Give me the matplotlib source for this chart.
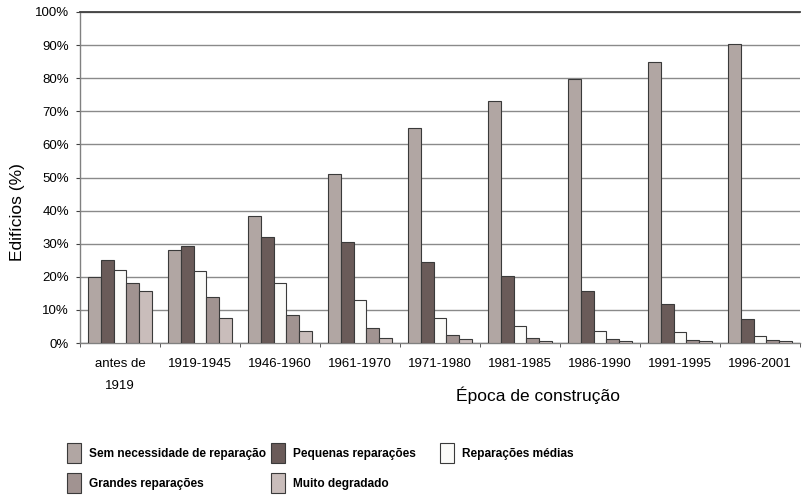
import matplotlib as mpl
mpl.use('Agg')
import matplotlib.pyplot as plt
from matplotlib.patches import Rectangle
from matplotlib.ticker import PercentFormatter
import numpy as np

periods = ["antes de\n1919", "1919-1945", "1946-1960", "1961-1970", "1971-1980",
           "1981-1985", "1986-1990", "1991-1995", "1996-2001"]

series_names = ["Sem necessidade de reparação", "Pequenas reparações",
                "Reparações médias", "Grandes reparações", "Muito degradado"]

sem_necessidade = [20.0, 28.1, 38.3, 51.0, 65.0, 73.2, 79.8, 84.9, 90.3]
pequenas = [25.0, 29.3, 31.9, 30.6, 24.6, 20.2, 15.6, 11.7, 7.2]
medias = [22.2, 21.9, 18.1, 12.9, 7.7, 5.2, 3.6, 3.2, 2.1]
grandes = [18.0, 13.9, 8.4, 4.4, 2.3, 1.5, 1.1, 0.9, 0.9]
degradado = [15.6, 7.5, 3.6, 1.6, 1.1, 0.6, 0.6, 0.5, 0.5]

colors = ["#b1a6a3", "#6a5b59", "#fbfbf9", "#a19391", "#c9bdbb"]

plt.rcParams['font.family'] = ['Liberation Sans', 'DejaVu Sans']

W, H = 804, 497
fig = plt.figure(figsize=(W / 100, H / 100), dpi=100)
ax = fig.add_axes([80 / W, 1 - 343 / H, 720 / W, 331 / H])

all_series = [sem_necessidade, pequenas, medias, grandes, degradado]
x = np.arange(len(periods))
bw = 0.159
for j, vals in enumerate(all_series):
    ax.bar(x + (j - 2) * bw, np.array(vals) / 100, bw, color=colors[j],
           edgecolor="#3a3a3a", linewidth=0.8, zorder=3)

ax.set_xlim(-0.5, len(periods) - 0.5)
ax.set_ylim(0, 1)
ax.set_yticks(np.arange(0, 1.01, 0.1))
ax.yaxis.set_major_formatter(PercentFormatter(1.0, decimals=0))
ax.grid(axis='y', color="#8a8a8a", linewidth=1.0, zorder=0)
ax.axhline(1.0, color="#404040", linewidth=1.3, zorder=4, clip_on=False)

for s in ['top', 'right']:
    ax.spines[s].set_visible(False)
for s in ['left', 'bottom']:
    ax.spines[s].set_color("#808080")
    ax.spines[s].set_linewidth(1.0)

ax.set_xticks(x)
ax.set_xticklabels(periods, linespacing=2.1)
ax.set_xticks(np.arange(-0.5, len(periods)), minor=True)
ax.tick_params(axis='x', which='major', length=0, pad=11, labelsize=9.5)
ax.tick_params(axis='x', which='minor', length=3, color="#404040", direction='out')
ax.tick_params(axis='y', length=3, color="#404040", pad=5, labelsize=9.5)

fig.text(18 / W, 1 - 212 / H, "Edifícios (%)", rotation=90, ha='center',
         va='center', fontsize=12.5)
fig.text(538 / W, 1 - 395 / H, "Época de construção", ha='center',
         va='center', fontsize=12.5)

# legend drawn by hand, laid out like the original
legend_pos = [(67, 443), (271, 443), (440, 443), (67, 473), (271, 473)]
for j, name in enumerate(series_names):
    bx, by = legend_pos[j]
    fig.add_artist(Rectangle((bx / W, 1 - (by + 20) / H), 14 / W, 20 / H,
                             transform=fig.transFigure, facecolor=colors[j],
                             edgecolor="#3a3a3a", linewidth=0.8))
    fig.text((bx + 22) / W, 1 - (by + 11) / H, name, ha='left', va='center',
             fontsize=8.6, fontweight='bold')

plt.savefig('out.png', dpi=100)
